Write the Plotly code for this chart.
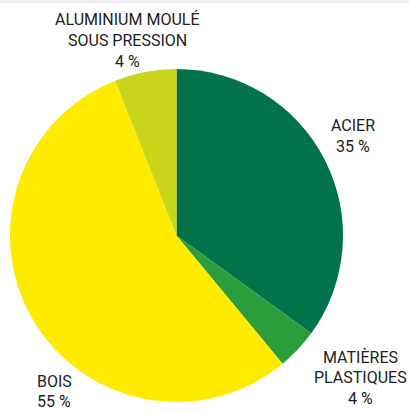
import plotly.graph_objects as go

W, H = 409, 412

categories = ["ACIER", "MATIÈRES PLASTIQUES", "BOIS", "ALUMINIUM MOULÉ SOUS PRESSION"]
values = [35, 4, 55, 6]  # slice sizes as drawn
pct_labels = ["35 %", "4 %", "55 %", "4 %"]
label_lines = [["ACIER"], ["MATIÈRES", "PLASTIQUES"], ["BOIS"], ["ALUMINIUM MOULÉ", "SOUS PRESSION"]]
colors = ["#00734A", "#2C9D3B", "#FFEB00", "#C9D51B"]

# label anchor positions (pixels: x, y of first line), alignment
label_pos = [(353, 126, "center"), (360, 357, "center"), (35, 381, "left"), (127, 20, "center")]

fig = go.Figure()
cx, cy, r = 176.5, 235.5, 166.5
fig.add_trace(go.Pie(
    labels=categories,
    values=values,
    marker=dict(colors=colors, line=dict(width=0)),
    sort=False,
    direction="clockwise",
    rotation=0,
    textinfo="none",
    hoverinfo="label+percent",
    showlegend=False,
    domain=dict(x=[(cx - r) / W, (cx + r) / W], y=[1 - (cy + r) / H, 1 - (cy - r) / H]),
))

font = dict(family="Roboto", size=16, color="#222222")
anns = []
for lines, pct, (x, y, al) in zip(label_lines, pct_labels, label_pos):
    all_lines = lines + [pct]
    for i, t in enumerate(all_lines):
        anns.append(dict(
            text=t, x=x / W, y=1 - (y + i * 20.5) / H, xref="paper", yref="paper",
            xanchor=al, yanchor="middle",
            showarrow=False, font=font,
        ))

fig.update_layout(
    width=W, height=H,
    margin=dict(l=0, r=0, t=0, b=0),
    paper_bgcolor="white", plot_bgcolor="white",
    annotations=anns,
    shapes=[dict(type="rect", xref="paper", yref="paper", x0=0, x1=1, y0=1 - 3 / H, y1=1,
                 fillcolor="#EEEEEE", line=dict(width=0), layer="below")],
)

fig.write_html("out.html", config={"displayModeBar": False},
               post_script="document.body.style.margin='0';document.body.style.overflow='hidden';")
